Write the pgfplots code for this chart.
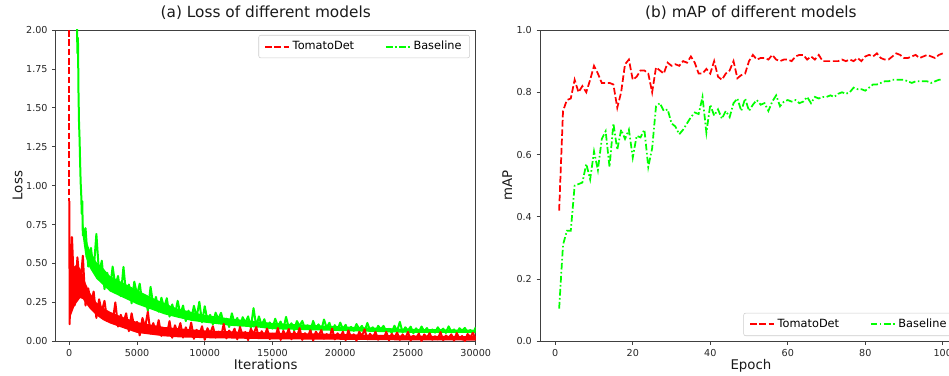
\documentclass[border=0pt]{standalone}
\usepackage{fontspec}
\setmainfont{DejaVu Sans}
\usepackage{pgfplots}
\pgfplotsset{compat=1.18}
\definecolor{mred}{rgb}{1,0,0}
\definecolor{mgreen}{rgb}{0,1,0}
\pgfplotsset{
  mystyle/.style={
    scale only axis,
    axis line style={black!75, line width=0.6pt},
    tick style={black!75, line width=0.6pt},
    tick align=outside,
    major tick length=2.6pt,
    xtick pos=bottom, ytick pos=left,
    ticklabel style={font=\fontsize{7.2}{8}\selectfont, text=black!85},
    label style={font=\fontsize{10}{12}\selectfont, text=black!90},
    title style={font=\fontsize{11.5}{13}\selectfont, text=black!90},
    /pgf/number format/assume math mode=true,
    legend columns=2,
    legend cell align=left,
    legend image code/.code={\draw[##1] (0pt,0pt) -- (18pt,0pt);},
    legend style={font=\fontsize{8.5}{10}\selectfont, draw=black!20, rounded corners=1.5pt,
      inner xsep=4pt, inner ysep=2.5pt,
      /tikz/every even column/.append style={column sep=21pt}},
  },
  redline/.style={mred, line width=1.5pt, dash pattern=on 5pt off 2pt},
  greenline/.style={mgreen, line width=1.5pt, dash pattern=on 5pt off 1.8pt on 1.2pt off 1.8pt},
  redband/.style={mred, line width=1.5pt, solid, line join=round},
  greenband/.style={mgreen, line width=1.5pt, solid, line join=round},
}
\begin{document}
\begin{tikzpicture}
\begin{axis}[mystyle,
  at={(0pt,0pt)}, anchor=south west,
  width=315pt, height=233.5pt,
  xmin=-1000, xmax=30000, ymin=0, ymax=2,
  xtick={0,5000,10000,15000,20000,25000,30000},
  ytick={0,0.25,0.5,0.75,1,1.25,1.5,1.75,2},
  scaled x ticks=false,
  xticklabel style={/pgf/number format/.cd, set thousands separator={}},
  yticklabel style={/pgf/number format/.cd, fixed, fixed zerofill, precision=2},
  title={(a) Loss of different models},
  title style={at={(axis description cs:0.5,1.016)}, anchor=base},
  xlabel={Iterations},
  xlabel style={at={(axis description cs:0.5,-0.092)}, anchor=base},
  ylabel={Loss},
  ylabel style={at={(axis description cs:-0.0794,0.5)}, anchor=base, rotate=0},
  legend style={at={(axis description cs:0.986,0.984)}, anchor=north east},
]
\addlegendimage{redline}
\addlegendentry{TomatoDet}
\addlegendimage{greenline}
\addlegendentry{Baseline}
% Baseline loss: dense core of the noisy band
\addplot[fill=mgreen, draw=none, forget plot] coordinates {
(800,1.15) (900,0.90) (1000,0.77) (1200,0.66) (1500,0.59) (2000,0.51) (2500,0.47) (3000,0.42) (4000,0.375) (5000,0.33)
(6000,0.285) (7000,0.245) (8000,0.21) (9000,0.19) (10000,0.17) (12000,0.145) (14000,0.128) (15000,0.118) (17500,0.107)
(20000,0.096) (25000,0.08) (30000,0.074)
(30000,0.054) (25000,0.055) (20000,0.066) (17500,0.072) (15000,0.078) (14000,0.088) (12000,0.099) (10000,0.12)
(9000,0.132) (8000,0.152) (7000,0.174) (6000,0.206) (5000,0.238) (4000,0.279) (3000,0.32) (2500,0.361) (2000,0.402)
(1500,0.473) (1200,0.543) (1000,0.67) (900,0.85) (800,1.1)
} -- cycle;
\addplot[greenband, forget plot] coordinates {
(560,2.1) (600,1.85) (640,1.95) (680,1.6) (720,1.4) (760,1.3) (800,1.15) (840,1.02) (880,0.95) (920,0.82) (960,0.9)
(1000,0.68) (1200,0.727) (1400,0.48) (1600,0.60) (1800,0.454) (2000,0.69) (2200,0.433) (2400,0.518) (2600,0.335) (2800,0.44)
(3000,0.33) (3200,0.48) (3400,0.357) (3600,0.42) (3800,0.29) (4000,0.478) (4200,0.298) (4400,0.365) (4600,0.244) (4800,0.383)
(5000,0.30) (5200,0.37) (5400,0.244) (5600,0.29) (5800,0.195) (6000,0.35) (6200,0.23) (6400,0.285) (6600,0.19) (6800,0.28)
(7000,0.216) (7200,0.277) (7400,0.159) (7600,0.237) (7800,0.169) (8000,0.26) (8200,0.174) (8400,0.23) (8600,0.13) (8800,0.197)
(9000,0.138) (9200,0.228) (9400,0.155) (9600,0.254) (9800,0.122) (10000,0.225) (10200,0.133) (10400,0.17) (10600,0.109) (10800,0.184)
(11000,0.143) (11200,0.183) (11400,0.115) (11600,0.145) (11800,0.092) (12000,0.18) (12200,0.116) (12400,0.15) (12600,0.096) (12800,0.155)
(13000,0.119) (13200,0.16) (13400,0.087) (13600,0.213) (13800,0.097) (14000,0.16) (14200,0.103) (14400,0.142) (14600,0.076) (14800,0.121)
(15000,0.082) (15200,0.145) (15400,0.097) (15600,0.127) (15800,0.076) (16000,0.157) (16200,0.086) (16400,0.116) (16600,0.07) (16800,0.13)
(17000,0.099) (17200,0.131) (17400,0.079) (17600,0.103) (17800,0.064) (18000,0.131) (18200,0.083) (18400,0.109) (18600,0.069) (18800,0.14)
(19000,0.087) (19200,0.119) (19400,0.064) (19600,0.104) (19800,0.073) (20000,0.12) (20200,0.078) (20400,0.106) (20600,0.059) (20800,0.093)
(21000,0.067) (21200,0.111) (21400,0.078) (21600,0.099) (21800,0.064) (22000,0.118) (22200,0.07) (22400,0.09) (22600,0.059) (22800,0.099)
(23000,0.078) (23200,0.099) (23400,0.064) (23600,0.08) (23800,0.054) (24000,0.10) (24200,0.067) (24400,0.125) (24600,0.057) (24800,0.09)
(25000,0.07) (25200,0.094) (25400,0.052) (25600,0.083) (25800,0.059) (26000,0.095) (26200,0.064) (26400,0.085) (26600,0.05) (26800,0.076)
(27000,0.056) (27200,0.09) (27400,0.065) (27600,0.081) (27800,0.054) (28000,0.096) (28200,0.06) (28400,0.076) (28600,0.052) (28800,0.084)
(29000,0.068) (29200,0.086) (29400,0.058) (29600,0.072) (29800,0.05) (30000,0.09)
};
% TomatoDet loss: initial dashed drop, dense core, noisy curve
\addplot[redline, forget plot] coordinates {(0,2.6) (0,0.9)};
\addplot[fill=mred, draw=none, forget plot] coordinates {
(0,0.5) (200,0.47) (500,0.49) (800,0.47) (1000,0.43) (1200,0.376) (1500,0.316) (2000,0.25) (2500,0.216) (3000,0.19)
(4000,0.154) (5000,0.124) (6000,0.108) (7000,0.092) (8000,0.084) (10000,0.07) (12000,0.064) (15000,0.056) (20000,0.047)
(25000,0.037) (30000,0.033)
(30000,0.005) (25000,0.006) (20000,0.01) (15000,0.013) (12000,0.018) (10000,0.02) (8000,0.026) (7000,0.032)
(6000,0.043) (5000,0.054) (4000,0.084) (3000,0.115) (2500,0.136) (2000,0.167) (1500,0.211) (1200,0.246) (1000,0.271)
(800,0.278) (400,0.23) (100,0.16) (30,0.13)
} -- cycle;
\addplot[redband, forget plot] coordinates {
(0,0.9) (30,0.11) (100,0.62) (150,0.2) (200,0.67) (400,0.23) (600,0.54) (800,0.34) (1000,0.55) (1200,0.23)
(1400,0.34) (1600,0.24) (1800,0.32) (2000,0.15) (2200,0.27) (2400,0.19) (2600,0.26) (2800,0.13) (3000,0.18) (3200,0.125)
(3400,0.25) (3600,0.095) (3800,0.17) (4000,0.12) (4200,0.18) (4400,0.065) (4600,0.18) (4800,0.09) (5000,0.125) (5200,0.038)
(5400,0.15) (5600,0.09) (5800,0.19) (6000,0.05) (6200,0.117) (6400,0.058) (6600,0.136) (6800,0.034) (7000,0.08) (7200,0.043)
(7400,0.13) (7600,0.023) (7800,0.103) (8000,0.055) (8200,0.117) (8400,0.024) (8600,0.09) (8800,0.04) (9000,0.12) (9200,0.016)
(9400,0.074) (9600,0.041) (9800,0.097) (10000,0.01) (10200,0.084) (10400,0.05) (10600,0.097) (10800,0.024) (11000,0.062) (11200,0.029)
(11400,0.112) (11600,0.019) (11800,0.069) (12000,0.042) (12200,0.081) (12400,0.013) (12600,0.092) (12800,0.035) (13000,0.06) (13200,0.008)
(13400,0.081) (13600,0.045) (13800,0.092) (14000,0.02) (14200,0.065) (14400,0.028) (14600,0.082) (14800,0.014) (15000,0.048) (15200,0.022)
(15400,0.085) (15600,0.009) (15800,0.067) (16000,0.034) (16200,0.079) (16400,0.013) (16600,0.062) (16800,0.025) (17000,0.085) (17200,0.009)
(17400,0.052) (17600,0.028) (17800,0.071) (18000,0.005) (18200,0.062) (18400,0.035) (18600,0.072) (18800,0.017) (19000,0.046) (19200,0.02)
(19400,0.082) (19600,0.012) (19800,0.051) (20000,0.03) (20200,0.061) (20400,0.007) (20600,0.07) (20800,0.025) (21000,0.045) (21200,0.004)
(21400,0.061) (21600,0.034) (21800,0.077) (22000,0.013) (22200,0.049) (22400,0.02) (22600,0.061) (22800,0.01) (23000,0.035) (23200,0.016)
(23400,0.061) (23600,0.006) (23800,0.048) (24000,0.024) (24200,0.056) (24400,0.009) (24600,0.044) (24800,0.017) (25000,0.06) (25200,0.005)
(25400,0.036) (25600,0.019) (25800,0.05) (26000,0.002) (26200,0.044) (26400,0.024) (26600,0.052) (26800,0.01) (27000,0.032) (27200,0.013)
(27400,0.059) (27600,0.007) (27800,0.037) (28000,0.021) (28200,0.045) (28400,0.004) (28600,0.053) (28800,0.018) (29000,0.034) (29200,0.002)
(29400,0.047) (29600,0.026) (29800,0.055) (30000,0.01)
};
\end{axis}

\begin{axis}[mystyle,
  at={(363.2pt,0pt)}, anchor=south west,
  width=316.5pt, height=233.5pt,
  xmin=-3.95, xmax=104.95, ymin=0, ymax=1,
  xtick={0,20,40,60,80,100},
  ytick={0,0.2,0.4,0.6,0.8,1},
  yticklabel style={/pgf/number format/.cd, fixed, fixed zerofill, precision=1},
  title={(b) mAP of different models},
  title style={at={(axis description cs:0.5,1.016)}, anchor=base},
  xlabel={Epoch},
  xlabel style={at={(axis description cs:0.5,-0.092)}, anchor=base},
  ylabel={mAP},
  ylabel style={at={(axis description cs:-0.0659,0.5)}, anchor=base, rotate=0},
  legend style={at={(axis description cs:0.983,0.017)}, anchor=south east},
]
\addlegendimage{redline}
\addlegendentry{TomatoDet}
\addlegendimage{greenline}
\addlegendentry{Baseline}
\addplot[redline, line width=1.3pt, forget plot] coordinates {
(1,0.42) (2,0.74) (3,0.775) (4,0.78) (5,0.84) (6,0.80) (7,0.82) (8,0.80) (9,0.84) (10,0.885)
(11,0.86) (12,0.83) (13,0.83) (14,0.83) (15,0.825) (16,0.75) (17,0.80) (18,0.89) (19,0.905) (20,0.84)
(21,0.85) (22,0.87) (23,0.87) (24,0.86) (25,0.80) (26,0.88) (27,0.87) (28,0.86) (29,0.895) (30,0.885)
(31,0.89) (32,0.885) (33,0.90) (34,0.895) (35,0.915) (36,0.895) (37,0.86) (38,0.86) (39,0.875) (40,0.86)
(41,0.90) (42,0.85) (43,0.84) (44,0.86) (45,0.87) (46,0.90) (47,0.845) (48,0.855) (49,0.86) (50,0.90)
(51,0.92) (52,0.905) (53,0.91) (54,0.91) (55,0.905) (56,0.92) (57,0.905) (58,0.90) (59,0.905) (60,0.905)
(61,0.90) (62,0.915) (63,0.92) (64,0.92) (65,0.905) (66,0.915) (67,0.905) (68,0.92) (69,0.90) (70,0.90)
(71,0.90) (72,0.90) (73,0.90) (74,0.905) (75,0.90) (76,0.905) (77,0.90) (78,0.91) (79,0.90) (80,0.915)
(81,0.92) (82,0.915) (83,0.925) (84,0.91) (85,0.905) (86,0.905) (87,0.915) (88,0.925) (89,0.92) (90,0.91)
(91,0.91) (92,0.915) (93,0.92) (94,0.91) (95,0.915) (96,0.92) (97,0.915) (98,0.91) (99,0.92) (100,0.925)
};
\addplot[greenline, line width=1.3pt, forget plot] coordinates {
(1,0.105) (2,0.31) (3,0.355) (4,0.355) (5,0.50) (6,0.505) (7,0.51) (8,0.57) (9,0.52) (10,0.61)
(11,0.55) (12,0.65) (13,0.675) (14,0.56) (15,0.70) (16,0.615) (17,0.68) (18,0.65) (19,0.68) (20,0.59)
(21,0.66) (22,0.655) (23,0.68) (24,0.56) (25,0.62) (26,0.755) (27,0.765) (28,0.74) (29,0.745) (30,0.70)
(31,0.69) (32,0.665) (33,0.68) (34,0.70) (35,0.72) (36,0.735) (37,0.73) (38,0.785) (39,0.67) (40,0.76)
(41,0.725) (42,0.745) (43,0.715) (44,0.74) (45,0.72) (46,0.765) (47,0.78) (48,0.74) (49,0.78) (50,0.74)
(51,0.76) (52,0.775) (53,0.76) (54,0.765) (55,0.74) (56,0.77) (57,0.79) (58,0.755) (59,0.77) (60,0.775)
(61,0.77) (62,0.775) (63,0.765) (64,0.77) (65,0.785) (66,0.765) (67,0.785) (68,0.78) (69,0.785) (70,0.785)
(71,0.79) (72,0.785) (73,0.795) (74,0.80) (75,0.795) (76,0.80) (77,0.815) (78,0.81) (79,0.81) (80,0.805)
(81,0.815) (82,0.825) (83,0.825) (84,0.83) (85,0.835) (86,0.835) (87,0.84) (88,0.84) (89,0.84) (90,0.84)
(91,0.835) (92,0.83) (93,0.835) (94,0.835) (95,0.835) (96,0.835) (97,0.83) (98,0.835) (99,0.84) (100,0.84)
};
\end{axis}
\pgfresetboundingbox
\path[use as bounding box] (-41.8pt,-25.3pt) rectangle (670pt,256pt);
\end{tikzpicture}
\end{document}
